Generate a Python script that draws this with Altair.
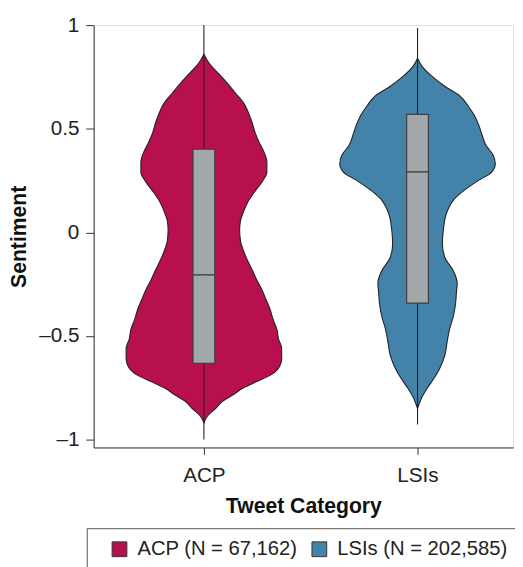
import altair as alt
import pandas as pd

# ---------------- data ----------------
categories = ["ACP", "LSIs"]
legend_labels = ["ACP (N = 67,162)", "LSIs (N = 202,585)"]
colors = ["#B80F4E", "#4382A9"]

# violin outlines: sentiment value and relative density (max = 1)
acp_sentiment = [0.86, 0.815, 0.77, 0.72, 0.67, 0.625, 0.58, 0.53, 0.48, 0.435,
                 0.39, 0.34, 0.29, 0.245, 0.20, 0.15, 0.10, 0.055, 0.01, -0.04,
                 -0.09, -0.135, -0.18, -0.23, -0.28, -0.325, -0.37, -0.42, -0.47, -0.515,
                 -0.56, -0.61, -0.66, -0.69, -0.72, -0.75, -0.785, -0.815, -0.85, -0.88,
                 -0.91, -0.92]
acp_density = [0.0, 0.07, 0.18, 0.30, 0.41, 0.51, 0.57, 0.62, 0.66, 0.71,
               0.77, 0.81, 0.81, 0.75, 0.66, 0.57, 0.51, 0.47, 0.46, 0.47,
               0.51, 0.56, 0.62, 0.68, 0.75, 0.80, 0.85, 0.89, 0.94, 0.96,
               1.0, 1.0, 0.95, 0.85, 0.68, 0.51, 0.37, 0.24, 0.15, 0.06,
               0.01, 0.0]

lsi_sentiment = [0.84, 0.80, 0.755, 0.705, 0.66, 0.61, 0.565, 0.515, 0.47, 0.42,
                 0.375, 0.33, 0.29, 0.245, 0.20, 0.16, 0.125, 0.09, 0.005, -0.055,
                 -0.12, -0.185, -0.245, -0.29, -0.34, -0.405, -0.47, -0.53, -0.595, -0.66,
                 -0.705, -0.755, -0.80, -0.85]
lsi_density = [0.0, 0.06, 0.18, 0.35, 0.54, 0.65, 0.73, 0.79, 0.83, 0.88,
               0.97, 1.0, 0.95, 0.76, 0.59, 0.47, 0.41, 0.37, 0.33, 0.32,
               0.35, 0.46, 0.51, 0.50, 0.49, 0.46, 0.41, 0.38, 0.35, 0.28,
               0.21, 0.12, 0.05, 0.0]

# box plot statistics
box_q1 = [-0.632, -0.341]
box_median = [-0.205, 0.292]
box_q3 = [0.401, 0.569]
whisker_low = [-1.0, -0.927]
whisker_high = [1.0, 0.986]

y_ticks = [-1, -0.5, 0, 0.5, 1]

# ---------------- tables ----------------
rows = []
for i, (sents, dens) in enumerate([(acp_sentiment, acp_density), (lsi_sentiment, lsi_density)]):
    for s, d in zip(sents, dens):
        rows.append({"category": categories[i], "group": legend_labels[i],
                     "pos": i + 1, "sentiment": s, "density": d})
violin_df = pd.DataFrame(rows)

box_df = pd.DataFrame({
    "category": categories, "pos": [1, 2], "q1": box_q1, "med": box_median,
    "q3": box_q3, "lo": whisker_low, "hi": whisker_high,
})

FONT = "Liberation Sans"
HALF_VIOLIN = 0.364
HALF_BOX = 0.051

xscale = alt.Scale(domain=[0.484, 2.447], nice=False, zero=False)
yscale = alt.Scale(domain=[-1.038, 1], nice=False, zero=False)

label_list = "[" + ",".join("'%s'" % c for c in categories) + "]"
xaxis = alt.Axis(values=[1, 2], labelExpr=label_list + "[datum.value - 1]",
                 title="Tweet Category", titleFont=FONT, titleFontSize=21.5,
                 titleFontWeight="bold", titleColor="#111", titlePadding=10,
                 labelFont=FONT, labelFontSize=21, labelColor="#222",
                 labelPadding=11, labelFlush=False, labelOverlap=False,
                 tickSize=7, tickColor="#333", domainColor="#333", grid=False)
yaxis = alt.Axis(values=y_ticks,
                 labelExpr="datum.value < 0 ? '\u2013' + format(-datum.value, '~g') : format(datum.value, '~g')",
                 title="Sentiment", titleFont=FONT, titleFontSize=21.5,
                 titleFontWeight="bold", titleColor="#111", titlePadding=8,
                 labelFont=FONT, labelFontSize=21, labelColor="#222",
                 labelPadding=7, labelOverlap=False,
                 tickSize=8, tickColor="#333", domainColor="#333", grid=False)

violin = alt.Chart(violin_df).transform_calculate(
    xl=f"datum.pos - datum.density * {HALF_VIOLIN}",
    xr=f"datum.pos + datum.density * {HALF_VIOLIN}",
).mark_area(orient="horizontal", interpolate="monotone", stroke="#222",
            strokeWidth=1.1, opacity=1).encode(
    y=alt.Y("sentiment:Q", scale=yscale, axis=yaxis),
    x=alt.X("xl:Q", scale=xscale, axis=xaxis),
    x2="xr:Q",
    detail="category:N",
    color=alt.Color("group:N",
                    scale=alt.Scale(domain=legend_labels, range=colors),
                    legend=alt.Legend(orient="none", legendX=-7, legendY=511,
                                      direction="horizontal", title=None,
                                      symbolType="square", symbolSize=225,
                                      symbolStrokeColor="#333", symbolStrokeWidth=1,
                                      symbolOpacity=1, symbolOffset=12,
                                      labelFont=FONT, labelFontSize=20.5,
                                      labelColor="#222", labelOffset=8,
                                      labelLimit=400, columnPadding=0,
                                      padding=11, strokeColor="#555",
                                      fillColor="white")),
)

base_box = alt.Chart(box_df).transform_calculate(
    bl=f"datum.pos - {HALF_BOX}",
    br=f"datum.pos + {HALF_BOX}",
)

whisker = base_box.mark_rule(color="#222", strokeWidth=1.1).encode(
    x=alt.X("pos:Q", scale=xscale, axis=xaxis),
    y=alt.Y("lo:Q", scale=yscale, axis=yaxis),
    y2="hi:Q",
)

box = base_box.mark_bar(fill="#A1A8AB", stroke="#3F3F3F", strokeWidth=1.2).encode(
    x=alt.X("bl:Q", scale=xscale, axis=xaxis),
    x2="br:Q",
    y=alt.Y("q1:Q", scale=yscale, axis=yaxis),
    y2="q3:Q",
)

median = base_box.mark_rule(color="#3F3F3F", strokeWidth=1.4).encode(
    x=alt.X("bl:Q", scale=xscale, axis=xaxis),
    x2="br:Q",
    y=alt.Y("med:Q", scale=yscale, axis=yaxis),
)

chart = alt.layer(violin, whisker, box, median).properties(
    width=426, height=429,
    autosize=alt.AutoSizeParams(type="none"),
    padding={"left": 87, "top": 13, "right": 2, "bottom": 117},
).configure_view(stroke=None).configure(background="white")

chart.save("out.html", embed_options={"renderer": "svg", "actions": False})
